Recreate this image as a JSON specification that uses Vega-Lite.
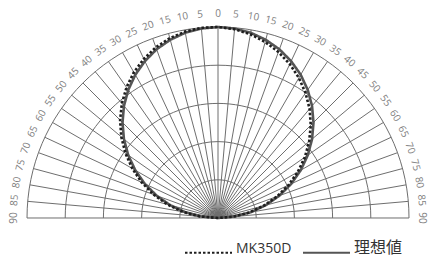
{
  "$schema": "https://vega.github.io/schema/vega-lite/v6.json",
  "width": 431,
  "height": 257,
  "padding": 0,
  "autosize": {"type": "none"},
  "datasets": {
    "rings": [{"ring": 0.2}, {"ring": 0.4}, {"ring": 0.6}, {"ring": 0.8}, {"ring": 1.0}],
    "angles": [
      {"angle": -90, "label": "90"}, {"angle": -85, "label": "85"}, {"angle": -80, "label": "80"}, {"angle": -75, "label": "75"},
      {"angle": -70, "label": "70"}, {"angle": -65, "label": "65"}, {"angle": -60, "label": "60"}, {"angle": -55, "label": "55"},
      {"angle": -50, "label": "50"}, {"angle": -45, "label": "45"}, {"angle": -40, "label": "40"}, {"angle": -35, "label": "35"},
      {"angle": -30, "label": "30"}, {"angle": -25, "label": "25"}, {"angle": -20, "label": "20"}, {"angle": -15, "label": "15"},
      {"angle": -10, "label": "10"}, {"angle": -5, "label": "5"}, {"angle": 0, "label": "0"},
      {"angle": 5, "label": "5"}, {"angle": 10, "label": "10"}, {"angle": 15, "label": "15"}, {"angle": 20, "label": "20"},
      {"angle": 25, "label": "25"}, {"angle": 30, "label": "30"}, {"angle": 35, "label": "35"}, {"angle": 40, "label": "40"},
      {"angle": 45, "label": "45"}, {"angle": 50, "label": "50"}, {"angle": 55, "label": "55"}, {"angle": 60, "label": "60"},
      {"angle": 65, "label": "65"}, {"angle": 70, "label": "70"}, {"angle": 75, "label": "75"}, {"angle": 80, "label": "80"},
      {"angle": 85, "label": "85"}, {"angle": 90, "label": "90"}
    ],
    "curves": [
      {"series": "理想値", "angle": -90, "value": 0.0}, {"series": "理想値", "angle": -85, "value": 0.087},
      {"series": "理想値", "angle": -80, "value": 0.174}, {"series": "理想値", "angle": -75, "value": 0.259},
      {"series": "理想値", "angle": -70, "value": 0.342}, {"series": "理想値", "angle": -65, "value": 0.423},
      {"series": "理想値", "angle": -60, "value": 0.5}, {"series": "理想値", "angle": -55, "value": 0.574},
      {"series": "理想値", "angle": -50, "value": 0.643}, {"series": "理想値", "angle": -45, "value": 0.707},
      {"series": "理想値", "angle": -40, "value": 0.766}, {"series": "理想値", "angle": -35, "value": 0.819},
      {"series": "理想値", "angle": -30, "value": 0.866}, {"series": "理想値", "angle": -25, "value": 0.906},
      {"series": "理想値", "angle": -20, "value": 0.94}, {"series": "理想値", "angle": -15, "value": 0.966},
      {"series": "理想値", "angle": -10, "value": 0.985}, {"series": "理想値", "angle": -5, "value": 0.996},
      {"series": "理想値", "angle": 0, "value": 1.0},
      {"series": "理想値", "angle": 5, "value": 0.996}, {"series": "理想値", "angle": 10, "value": 0.985},
      {"series": "理想値", "angle": 15, "value": 0.966}, {"series": "理想値", "angle": 20, "value": 0.94},
      {"series": "理想値", "angle": 25, "value": 0.906}, {"series": "理想値", "angle": 30, "value": 0.866},
      {"series": "理想値", "angle": 35, "value": 0.819}, {"series": "理想値", "angle": 40, "value": 0.766},
      {"series": "理想値", "angle": 45, "value": 0.707}, {"series": "理想値", "angle": 50, "value": 0.643},
      {"series": "理想値", "angle": 55, "value": 0.574}, {"series": "理想値", "angle": 60, "value": 0.5},
      {"series": "理想値", "angle": 65, "value": 0.423}, {"series": "理想値", "angle": 70, "value": 0.342},
      {"series": "理想値", "angle": 75, "value": 0.259}, {"series": "理想値", "angle": 80, "value": 0.174},
      {"series": "理想値", "angle": 85, "value": 0.087}, {"series": "理想値", "angle": 90, "value": 0.0},
      {"series": "MK350D", "angle": -90, "value": 0.0}, {"series": "MK350D", "angle": -85, "value": 0.097},
      {"series": "MK350D", "angle": -80, "value": 0.188}, {"series": "MK350D", "angle": -75, "value": 0.275},
      {"series": "MK350D", "angle": -70, "value": 0.359}, {"series": "MK350D", "angle": -65, "value": 0.441},
      {"series": "MK350D", "angle": -60, "value": 0.518}, {"series": "MK350D", "angle": -55, "value": 0.592},
      {"series": "MK350D", "angle": -50, "value": 0.661}, {"series": "MK350D", "angle": -45, "value": 0.725},
      {"series": "MK350D", "angle": -40, "value": 0.783}, {"series": "MK350D", "angle": -35, "value": 0.835},
      {"series": "MK350D", "angle": -30, "value": 0.881}, {"series": "MK350D", "angle": -25, "value": 0.919},
      {"series": "MK350D", "angle": -20, "value": 0.951}, {"series": "MK350D", "angle": -15, "value": 0.975},
      {"series": "MK350D", "angle": -10, "value": 0.991}, {"series": "MK350D", "angle": -5, "value": 0.999},
      {"series": "MK350D", "angle": 0, "value": 1.0},
      {"series": "MK350D", "angle": 5, "value": 0.992}, {"series": "MK350D", "angle": 10, "value": 0.977},
      {"series": "MK350D", "angle": 15, "value": 0.954}, {"series": "MK350D", "angle": 20, "value": 0.925},
      {"series": "MK350D", "angle": 25, "value": 0.889}, {"series": "MK350D", "angle": 30, "value": 0.847},
      {"series": "MK350D", "angle": 35, "value": 0.799}, {"series": "MK350D", "angle": 40, "value": 0.746},
      {"series": "MK350D", "angle": 45, "value": 0.687}, {"series": "MK350D", "angle": 50, "value": 0.623},
      {"series": "MK350D", "angle": 55, "value": 0.555}, {"series": "MK350D", "angle": 60, "value": 0.482},
      {"series": "MK350D", "angle": 65, "value": 0.407}, {"series": "MK350D", "angle": 70, "value": 0.328},
      {"series": "MK350D", "angle": 75, "value": 0.247}, {"series": "MK350D", "angle": 80, "value": 0.165},
      {"series": "MK350D", "angle": 85, "value": 0.082}, {"series": "MK350D", "angle": 90, "value": 0.0}
    ]
  },
  "layer": [
    {
      "data": {"name": "rings"},
      "transform": [
        {"calculate": "0", "as": "cx"},
        {"calculate": "0", "as": "cy"}
      ],
      "mark": {"type": "point", "shape": "M -1 0 A 1 1 0 0 1 1 0", "filled": false, "stroke": "#6e6e6e", "strokeWidth": 1, "opacity": 1},
      "encoding": {
        "x": {"field": "cx", "type": "quantitative", "scale": {"domain": [-1.1414, 1.1152], "nice": false, "zero": false}, "axis": null},
        "y": {"field": "cy", "type": "quantitative", "scale": {"domain": [-0.2042, 1.1414], "nice": false, "zero": false}, "axis": null},
        "size": {"field": "ring", "type": "quantitative", "scale": {"type": "pow", "exponent": 2, "domain": [0, 1], "range": [0, 145924]}, "legend": null}
      }
    },
    {
      "data": {"name": "angles"},
      "transform": [
        {"calculate": "0", "as": "cx"},
        {"calculate": "0", "as": "cy"},
        {"calculate": "sin(datum.angle*PI/180)", "as": "sx"},
        {"calculate": "cos(datum.angle*PI/180)", "as": "sy"}
      ],
      "mark": {"type": "rule", "stroke": "#6e6e6e", "strokeWidth": 1},
      "encoding": {
        "x": {"field": "cx", "type": "quantitative", "scale": {"domain": [-1.1414, 1.1152], "nice": false, "zero": false}, "axis": null},
        "y": {"field": "cy", "type": "quantitative", "scale": {"domain": [-0.2042, 1.1414], "nice": false, "zero": false}, "axis": null},
        "x2": {"field": "sx"},
        "y2": {"field": "sy"}
      }
    },
    {
      "data": {"name": "curves"},
      "transform": [
        {"calculate": "datum.value*sin(datum.angle*PI/180)", "as": "px"},
        {"calculate": "datum.value*cos(datum.angle*PI/180)", "as": "py"}
      ],
      "mark": {"type": "line", "strokeWidth": 2.6},
      "encoding": {
        "x": {"field": "px", "type": "quantitative", "scale": {"domain": [-1.1414, 1.1152], "nice": false, "zero": false}, "axis": null},
        "y": {"field": "py", "type": "quantitative", "scale": {"domain": [-0.2042, 1.1414], "nice": false, "zero": false}, "axis": null},
        "order": {"field": "angle", "type": "quantitative"},
        "color": {"field": "series", "type": "nominal", "scale": {"domain": ["MK350D", "理想値"], "range": ["#1e1e1e", "#555555"]}, "legend": {"title": null, "encode": {"labels": {"update": {"fontSize": {"signal": "datum.label == '理想値' ? 16 : 14"}}}}}},
        "strokeDash": {"field": "series", "type": "nominal", "scale": {"domain": ["MK350D", "理想値"], "range": [[2.5, 2], [1, 0]]}, "legend": {"title": null, "encode": {"labels": {"update": {"fontSize": {"signal": "datum.label == '理想値' ? 16 : 14"}}}}}}
      }
    },
    {
      "data": {"name": "angles"},
      "transform": [
        {"calculate": "1.07*sin(datum.angle*PI/180)", "as": "lx"},
        {"calculate": "1.07*cos(datum.angle*PI/180)", "as": "ly"}
      ],
      "mark": {"type": "text", "align": "center", "baseline": "middle", "fontSize": 10, "color": "#808080"},
      "encoding": {
        "x": {"field": "lx", "type": "quantitative", "scale": {"domain": [-1.1414, 1.1152], "nice": false, "zero": false}, "axis": null},
        "y": {"field": "ly", "type": "quantitative", "scale": {"domain": [-0.2042, 1.1414], "nice": false, "zero": false}, "axis": null},
        "text": {"field": "label", "type": "nominal"},
        "angle": {"field": "angle", "type": "quantitative", "scale": {"type": "linear", "domain": [-90, 90], "range": [-90, 90]}, "legend": null}
      }
    }
  ],
  "config": {
    "view": {"stroke": null},
    "font": "Open Sans",
    "legend": {
      "orient": "none",
      "legendX": 184,
      "legendY": 228,
      "direction": "horizontal",
      "symbolType": "stroke",
      "symbolSize": 2209,
      "symbolStrokeWidth": 2,
      "labelFontSize": 14,
      "labelColor": "#333333",
      "labelFont": "Open Sans, Noto Sans CJK JP",
      "labelBaseline": "alphabetic",
      "labelOffset": 3,
      "columnPadding": 7,
      "padding": 0
    }
  }
}
